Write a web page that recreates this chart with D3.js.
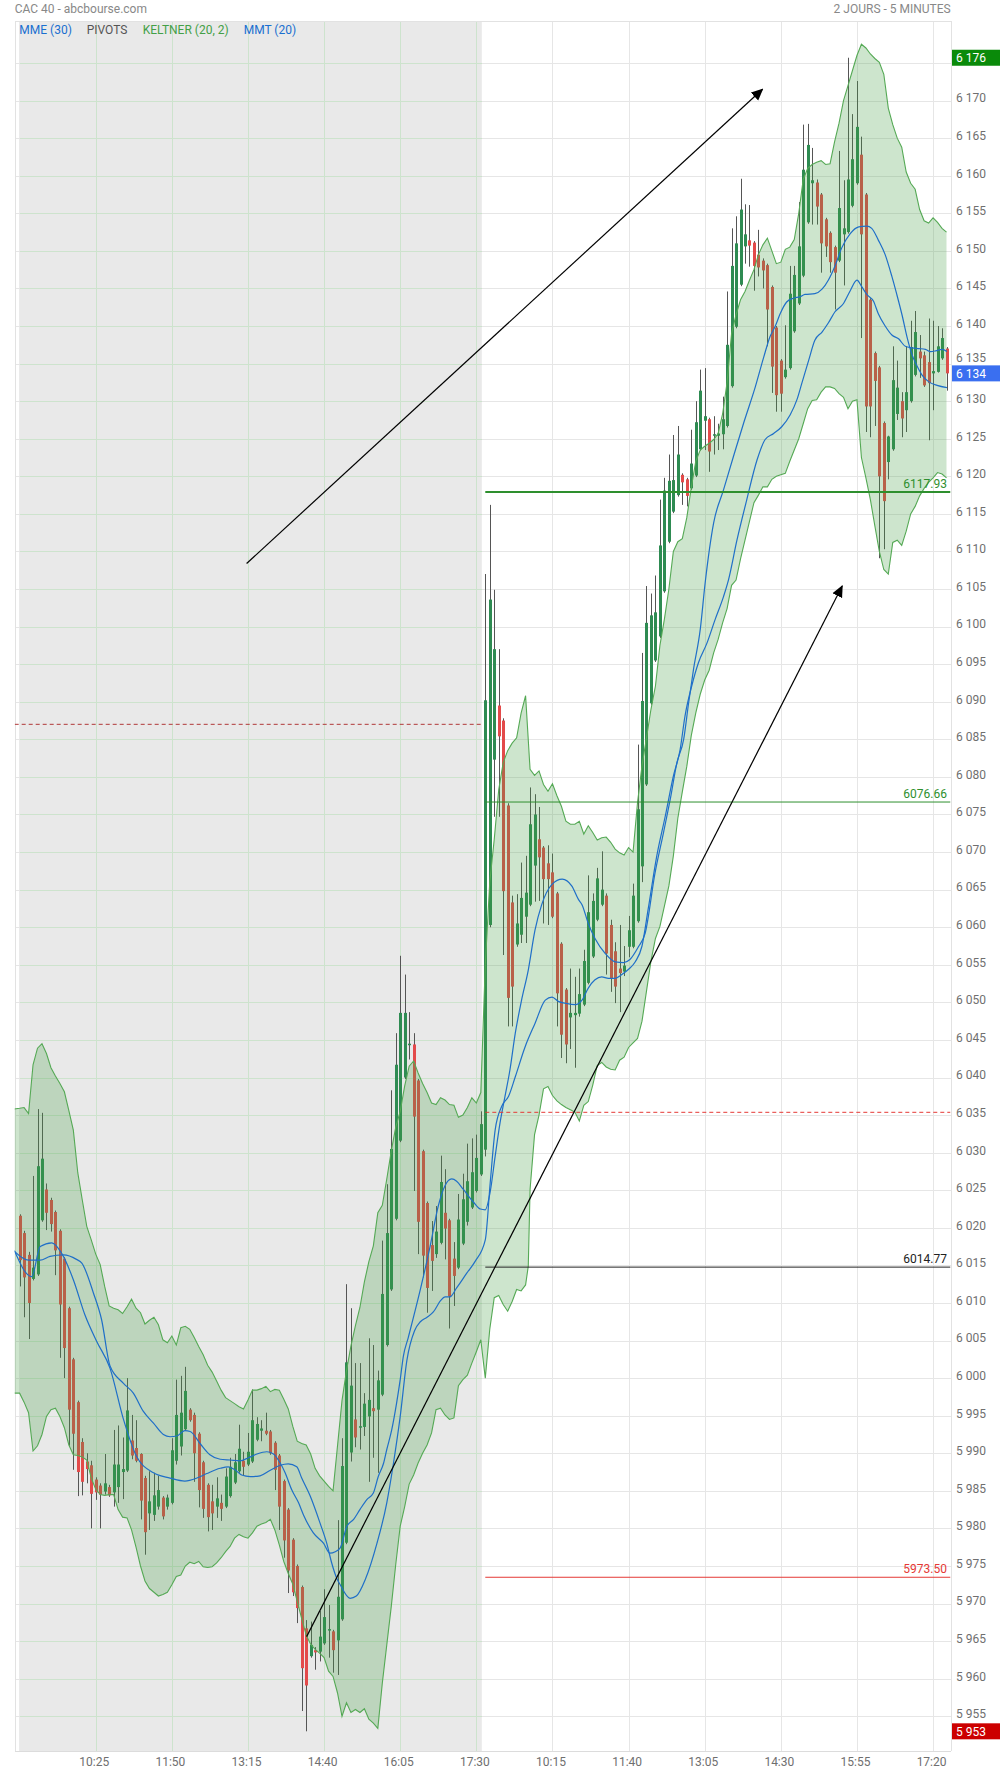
<!DOCTYPE html>
<html><head><meta charset="utf-8">
<script src="https://cdn.jsdelivr.net/npm/d3@7"></script>
<style>
body{margin:0;background:#fff;}
svg{display:block;font-family:Roboto,"Open Sans",Arial,sans-serif;}
</style></head><body>
<svg id="c" width="1000" height="1774"></svg>
<script>
// ---------- DATA ----------
const timeLabels = ["10:25","11:50","13:15","14:40","16:05","17:30","10:15","11:40","13:05","14:30","15:55","17:20"];
const timeTickIdx = [17,34,51,68,85,102,119,136,153,170,187,204];

const open = [6021.6,6019.3,6016.4,6013.2,6013.8,6021.0,6025.1,6023.7,6022.1,6019.6,6015.9,6009.3,6002.5,5996.8,5991.5,5988.9,5988.4,5986.5,5985.7,5984.9,
5985.5,5984.8,5985.5,5987.5,5987.7,5991.7,5990.7,5989.9,5986.7,5982.0,5981.8,5982.9,5984.1,5982.9,5983.4,5989.0,5990.9,5993.2,5995.8,5995.1,
5992.6,5988.8,5985.8,5983.6,5982.9,5983.4,5982.9,5984.3,5986.1,5987.6,5989.0,5988.5,5988.9,5991.8,5993.0,5993.0,5992.9,5991.4,5989.7,5986.3,
5982.5,5978.5,5975.0,5972.2,5966.7,5963.0,5963.8,5963.6,5964.7,5966.4,5966.3,5965.1,5967.9,5978.1,5990.1,5994.5,5993.4,5993.5,5994.9,5996.0,
5995.8,5997.8,6004.4,6011.8,6021.2,6031.6,6040.0,6044.3,6044.4,6039.6,6030.2,6023.3,6017.7,6016.5,6018.0,6022.0,6021.0,6015.9,6014.7,6017.9,
6020.8,6022.7,6024.9,6027.1,6030.4,6060.3,6082.3,6089.5,6087.5,6076.2,6063.3,6057.7,6059.0,6061.4,6063.0,6068.2,6071.7,6070.6,6068.5,6067.3,
6064.5,6057.8,6051.7,6048.0,6048.3,6048.5,6049.7,6052.6,6056.1,6061.0,6063.0,6064.2,6060.3,6056.8,6054.5,6054.1,6057.4,6057.4,6060.8,6068.1,
6079.0,6089.8,6095.5,6098.7,6104.7,6111.3,6115.3,6117.5,6120.2,6119.6,6118.4,6120.1,6123.6,6127.4,6127.6,6125.4,6125.4,6125.6,6126.7,6132.0,
6139.9,6145.5,6150.6,6151.4,6151.1,6149.5,6148.7,6148.1,6145.2,6139.8,6135.4,6133.2,6134.4,6139.3,6143.0,6146.7,6153.8,6159.0,6159.1,6157.5,
6154.2,6152.4,6150.5,6148.7,6152.2,6152.5,6156.0,6159.0,6162.8,6157.5,6143.5,6136.4,6134.5,6127.1,6121.9,6123.6,6128.3,6130.0,6128.8,6130.0,
6133.5,6136.6,6136.1,6135.2,6133.7,6133.9,6135.7,6137.0];

const high = [6021.8,6019.6,6016.8,6026.9,6035.8,6035.3,6025.9,6024.0,6022.3,6019.8,6016.1,6009.5,6002.7,5997.0,5992.0,5990.0,5989.0,5986.8,5986.0,5989.9,
5985.8,5993.1,5993.7,5992.1,6000.0,5995.1,5994.4,5990.0,5987.0,5987.6,5987.4,5987.0,5984.3,5984.5,5992.0,5999.8,6000.3,6001.5,5996.0,5995.4,
5992.8,5989.0,5986.0,5985.8,5986.8,5984.5,5988.0,5989.4,5989.9,5993.8,5990.2,5992.7,5998.5,5994.8,5994.4,5995.4,5993.1,5991.6,5989.9,5986.5,
5982.7,5978.7,5975.2,5972.4,5967.8,5967.6,5964.2,5969.0,5971.9,5969.8,5966.5,5981.1,5992.0,6012.5,6009.3,6002.0,6002.0,5998.0,6005.3,6004.4,
6001.0,6018.3,6025.8,6038.3,6045.9,6056.2,6053.7,6048.7,6045.9,6039.8,6030.4,6023.5,6020.9,6022.9,6029.6,6027.8,6021.2,6018.1,6024.5,6027.2,
6031.2,6031.9,6032.4,6035.5,6107.0,6116.2,6104.9,6097.0,6087.8,6076.5,6064.2,6064.4,6068.6,6069.5,6078.6,6077.7,6076.0,6070.8,6070.9,6069.8,
6064.7,6058.0,6051.9,6054.5,6053.4,6054.5,6057.0,6066.9,6064.5,6067.9,6070.1,6064.5,6061.0,6058.0,6060.3,6057.5,6061.5,6065.8,6084.3,6096.5,
6105.4,6104.4,6106.8,6116.9,6119.8,6122.9,6125.5,6126.7,6120.4,6119.8,6126.2,6130.0,6134.2,6134.4,6127.8,6128.0,6127.0,6130.6,6144.6,6153.0,
6154.6,6159.6,6156.2,6156.1,6151.3,6152.8,6149.0,6148.3,6145.4,6140.0,6135.6,6140.1,6148.0,6148.0,6156.5,6166.8,6166.9,6163.7,6159.5,6157.7,
6154.4,6152.6,6150.7,6163.3,6159.4,6175.7,6168.2,6172.6,6165.2,6157.7,6143.7,6136.6,6134.7,6127.3,6125.4,6137.3,6135.4,6131.2,6137.3,6140.7,
6142.0,6138.8,6136.6,6141.0,6140.7,6140.0,6139.7,6137.2];

const low = [6012.2,6008.1,6005.2,6013.0,6013.6,6020.8,6019.7,6019.5,6013.7,6002.7,6000.0,5991.0,5987.8,5984.3,5984.4,5986.0,5980.0,5983.8,5980.0,5984.5,
5984.2,5982.9,5983.4,5983.9,5987.5,5989.2,5988.8,5981.2,5976.5,5979.8,5981.0,5982.5,5981.2,5982.5,5983.2,5988.5,5989.7,5993.0,5994.2,5986.2,
5982.8,5981.4,5979.6,5979.8,5981.4,5981.0,5982.7,5984.1,5985.9,5987.4,5987.0,5988.3,5988.7,5991.6,5991.6,5992.4,5989.8,5985.1,5979.8,5976.1,
5971.4,5971.0,5967.4,5955.7,5953.0,5962.8,5961.2,5962.3,5964.5,5962.8,5960.8,5960.5,5967.7,5977.9,5988.9,5990.8,5990.5,5992.3,5986.2,5989.4,
5987.4,5997.6,6004.2,6011.6,6021.0,6031.4,6039.8,6042.4,6024.9,6016.5,6013.4,6008.7,6011.6,6016.0,6017.8,6015.8,6006.6,6009.6,6014.5,6017.7,
6020.3,6022.5,6024.7,6026.9,6029.5,6060.0,6074.7,6074.7,6056.3,6046.8,6046.8,6057.4,6057.9,6057.9,6062.8,6063.4,6063.5,6060.5,6060.3,6061.2,
6046.8,6042.6,6041.9,6043.8,6041.3,6048.1,6049.5,6052.4,6055.9,6060.8,6062.8,6053.7,6051.4,6049.9,6048.7,6053.5,6056.0,6057.2,6060.6,6066.0,
6078.8,6089.6,6095.3,6098.5,6104.5,6111.1,6115.1,6117.3,6116.2,6116.0,6118.2,6119.9,6123.4,6123.5,6120.6,6122.9,6123.5,6123.6,6126.5,6131.8,
6139.7,6145.3,6148.3,6147.9,6144.7,6146.6,6145.0,6137.3,6131.1,6128.6,6128.6,6133.0,6134.2,6139.1,6142.8,6146.5,6153.6,6153.5,6153.5,6147.1,
6149.2,6147.1,6142.2,6148.5,6145.4,6152.3,6155.8,6158.8,6138.4,6125.9,6125.2,6126.7,6109.1,6110.3,6119.6,6123.4,6127.5,6125.2,6125.9,6129.8,
6133.3,6133.1,6131.9,6124.8,6128.8,6133.8,6135.5,6131.4];

const close = [6015.7,6013.4,6010.0,6014.7,6028.2,6029.2,6022.0,6020.5,6017.0,6009.8,6004.0,5995.8,5992.6,5987.5,5986.2,5987.9,5984.6,5984.8,5984.5,5986.0,
5984.4,5988.5,5988.5,5987.9,5995.7,5989.7,5989.0,5983.7,5979.5,5983.6,5984.4,5985.1,5981.6,5984.1,5990.4,5995.1,5995.4,5998.3,5994.4,5990.0,
5985.1,5982.6,5981.5,5982.0,5984.0,5982.6,5986.9,5988.2,5988.8,5990.6,5988.2,5990.2,5994.4,5993.9,5993.3,5992.6,5990.0,5987.8,5982.9,5978.4,
5974.4,5971.5,5969.4,5961.4,5959.1,5964.5,5963.5,5965.6,5968.2,5966.6,5963.8,5970.9,5988.3,6002.1,5999.0,5992.1,5993.6,5996.6,5997.1,5995.6,
5999.7,6011.2,6019.3,6030.5,6041.7,6048.6,6048.6,6044.5,6034.8,6020.8,6016.3,6012.0,6015.6,6019.5,6026.1,6019.9,6010.9,6013.6,6021.1,6023.8,
6026.2,6027.4,6029.3,6033.8,6090.2,6103.6,6097.0,6085.4,6064.8,6050.6,6052.1,6060.5,6063.9,6064.6,6073.7,6075.0,6069.3,6066.4,6066.4,6061.4,
6051.2,6045.7,6044.4,6048.6,6048.6,6051.1,6055.5,6062.0,6063.5,6066.5,6065.0,6056.5,6053.2,6052.1,6053.9,6054.9,6059.6,6064.2,6075.7,6090.1,
6100.5,6101.5,6101.9,6110.8,6118.1,6119.4,6119.5,6122.9,6119.2,6117.4,6121.7,6127.2,6131.4,6128.0,6123.3,6125.6,6125.7,6127.6,6137.5,6148.0,
6151.0,6155.5,6152.2,6150.7,6148.0,6147.8,6147.4,6142.2,6134.6,6130.8,6131.0,6134.2,6144.3,6146.8,6150.6,6160.8,6164.1,6159.4,6155.9,6151.0,
6150.6,6148.5,6147.1,6155.7,6153.0,6159.5,6162.2,6166.5,6152.2,6129.3,6129.3,6132.7,6120.0,6116.7,6125.3,6132.8,6131.8,6127.7,6131.2,6137.2,
6139.2,6135.7,6132.1,6132.4,6134.0,6137.3,6138.4,6133.7];

// Keltner (20,2) upper / lower : [candle index, value]
const keltnerUpper = [[-1.2,6035.8],[0,6035.9],[1,6036.0],[2,6035.2],[3,6041.7],[4,6043.9],[5,6044.5],[6,6043.2],[7,6041.3],[8,6040.2],[9,6039.2],[10,6038.1],[11,6035.6],[12,6033.0],[13,6027.3],[14,6023.7],[15,6020.2],[16,6018.4],[17,6016.5],[18,6015.1],[19,6012.2],
[20,6009.6],[21,6009.3],[22,6009.1],[23,6008.6],[24,6009.5],[25,6010.5],[26,6009.3],[27,6008.7],[28,6007.2],[29,6007.7],[30,6008.1],[31,6007.1],[32,6005.1],[33,6004.7],[34,6005.6],[35,6004.4],[36,6006.7],[37,6006.9],[38,6006.5],[39,6005.4],
[40,6004.2],[41,6003.1],[42,6001.7],[43,6000.8],[44,5999.6],[45,5998.4],[46,5997.4],[47,5997.0],[48,5996.6],[49,5996.2],[50,5995.9],[51,5997.1],[52,5998.4],[53,5998.4],[54,5998.6],[55,5998.9],[56,5998.2],[57,5998.5],[58,5998.4],[59,5997.2],
[60,5995.9],[61,5993.6],[62,5991.6],[63,5991.3],[64,5991.1],[65,5989.9],[66,5988.0],[67,5987.0],[68,5986.3],[69,5985.6],[70,5985.0],[71,5991.0],[72,5997.0],[73,6001.0],[74,6004.3],[75,6007.0],[76,6009.4],[77,6012.8],[78,6015.5],[79,6017.6],
[80,6022.0],[81,6023.0],[82,6026.5],[83,6030.2],[84,6033.4],[85,6035.5],[86,6038.9],[87,6041.5],[88,6042.2],[89,6040.6],[90,6039.2],[91,6038.0],[92,6036.6],[93,6036.4],[94,6037.3],[95,6037.0],[96,6036.4],[97,6036.3],[98,6034.7],[99,6035.0],
[100,6036.0],[101,6037.3],[102,6036.6],[103,6038.0],[104,6055.0],[105,6066.0],[106,6071.7],[107,6078.3],[108,6081.9],[109,6083.5],[110,6084.5],[111,6085.2],[112,6088.5],[113,6090.8],[114,6081.0],[115,6080.2],[116,6080.8],[117,6079.0],[118,6078.1],[119,6079.1],
[120,6077.5],[121,6076.1],[122,6074.1],[123,6073.7],[124,6073.7],[125,6074.1],[126,6072.4],[127,6073.5],[128,6072.6],[129,6071.6],[130,6071.9],[131,6072.0],[132,6071.3],[133,6070.4],[134,6069.9],[135,6069.6],[136,6070.6],[137,6070.0],[138,6076.6],[139,6081.5],
[140,6085.2],[141,6089.0],[142,6092.1],[143,6097.5],[144,6101.0],[145,6105.0],[146,6110.0],[147,6111.3],[148,6111.7],[149,6114.5],[150,6118.5],[151,6122.0],[152,6123.5],[153,6124.0],[154,6124.4],[155,6124.9],[156,6125.7],[157,6128.3],[158,6132.5],[159,6139.0],
[160,6141.5],[161,6143.5],[162,6144.6],[163,6146.1],[164,6147.5],[165,6149.5],[166,6150.8],[167,6151.7],[168,6150.0],[169,6148.3],[170,6148.5],[171,6150.2],[172,6150.5],[173,6151.5],[174,6155.0],[175,6159.5],[176,6161.0],[177,6161.5],[178,6161.8],[179,6162.0],
[180,6161.5],[181,6161.6],[182,6164.5],[183,6167.0],[184,6170.0],[185,6172.0],[186,6174.0],[187,6176.0],[188,6177.5],[189,6177.0],[190,6176.2],[191,6175.6],[192,6175.1],[193,6173.5],[194,6169.0],[195,6166.8],[196,6165.0],[197,6163.8],[198,6160.5],[199,6159.0],
[200,6158.2],[201,6155.5],[202,6154.0],[203,6153.7],[204,6154.4],[205,6153.8],[206,6153.0],[207,6152.5]];

const keltnerLower = [[-1.2,5998.0],[0,5998.0],[1,5996.8],[2,5995.4],[3,5990.3],[4,5991.0],[5,5992.5],[6,5994.9],[7,5995.8],[8,5996.0],[9,5994.9],[10,5993.4],[11,5991.1],[12,5989.8],[13,5989.7],[14,5989.5],[15,5989.1],[16,5986.7],[17,5985.2],[18,5984.5],[19,5984.4],
[20,5984.5],[21,5984.5],[22,5982.5],[23,5981.5],[24,5981.4],[25,5979.8],[26,5977.5],[27,5975.0],[28,5973.0],[29,5972.0],[30,5971.5],[31,5971.0],[32,5971.2],[33,5971.5],[34,5972.5],[35,5973.6],[36,5973.8],[37,5975.0],[38,5975.5],[39,5975.3],
[40,5975.6],[41,5974.9],[42,5974.8],[43,5974.9],[44,5975.4],[45,5976.1],[46,5976.9],[47,5977.6],[48,5978.7],[49,5979.2],[50,5978.9],[51,5978.7],[52,5979.4],[53,5980.3],[54,5980.6],[55,5980.8],[56,5981.2],[57,5979.8],[58,5977.8],[59,5975.6],
[60,5974.0],[61,5972.6],[62,5970.3],[63,5968.0],[64,5965.8],[65,5964.6],[66,5963.9],[67,5963.4],[68,5962.8],[69,5961.0],[70,5960.3],[71,5958.1],[72,5955.0],[73,5956.8],[74,5955.5],[75,5955.9],[76,5955.5],[77,5956.0],[78,5954.6],[79,5954.1],
[80,5953.4],[81,5959.4],[82,5964.5],[83,5969.6],[84,5975.2],[85,5980.3],[86,5982.9],[87,5985.9],[88,5987.1],[89,5988.7],[90,5990.0],[91,5991.1],[92,5992.7],[93,5995.8],[94,5996.0],[95,5995.1],[96,5994.5],[97,5994.7],[98,5999.0],[99,5999.8],
[100,6000.4],[101,6002.0],[102,6003.5],[103,6005.1],[104,6000.0],[105,6006.5],[106,6010.7],[107,6011.0],[108,6009.8],[109,6008.9],[110,6010.2],[111,6011.8],[112,6011.6],[113,6012.4],[113.6,6014.9],[114,6025.1],[115,6032.4],[116,6035.0],[117,6038.5],[118,6038.8],[119,6037.6],
[120,6036.9],[121,6036.4],[122,6036.0],[123,6035.7],[124,6035.4],[125,6034.2],[126,6036.3],[127,6036.8],[128,6039.0],[129,6041.6],[130,6042.0],[131,6041.4],[132,6041.1],[133,6041.0],[134,6042.3],[135,6042.7],[136,6044.0],[137,6044.6],[138,6045.2],[139,6047.5],
[140,6051.5],[141,6055.5],[142,6058.5],[143,6060.1],[144,6062.8],[145,6065.5],[146,6069.5],[147,6074.5],[148,6078.0],[149,6081.4],[150,6085.5],[151,6088.5],[152,6091.0],[153,6092.9],[154,6094.2],[155,6096.5],[156,6098.3],[157,6100.5],[158,6102.4],[159,6105.5],
[160,6106.2],[161,6109.0],[162,6111.5],[163,6114.0],[164,6116.5],[165,6117.5],[166,6118.6],[167,6118.6],[168,6119.6],[169,6120.0],[170,6120.2],[171,6120.4],[172,6122.0],[173,6123.5],[174,6125.0],[175,6127.0],[176,6129.0],[177,6130.1],[178,6130.2],[179,6131.2],
[180,6131.9],[181,6131.9],[182,6131.7],[183,6131.0],[184,6130.5],[185,6129.0],[186,6130.0],[187,6130.2],[188,6122.5],[189,6119.8],[190,6116.9],[191,6113.4],[192,6110.0],[193,6107.6],[194,6107.0],[195,6111.2],[196,6111.5],[197,6110.8],[198,6112.7],[199,6115.0],
[200,6116.0],[201,6117.4],[202,6118.4],[203,6119.2],[204,6119.8],[205,6120.5],[206,6120.3],[207,6119.8]];

// MME (30)
const mme30 = [[-1.2,6017.0],[2.7,6013.5],[4.6,6017.5],[7.2,6018.0],[9.4,6016.6],[12,6013.1],[14.6,6008.4],[17.2,6004.9],[20.2,6001.3],[23.2,5994.5],[26.1,5989.6],[29.9,5987.4],[33.6,5986.7],[36.9,5986.3],[39.6,5986.7],[41.8,5987.3],[44.8,5988.0],[46.6,5988.2],[48.1,5987.8],[49.6,5987.1],
[51.5,5986.9],[53.7,5987.0],[55.9,5987.7],[58.2,5988.4],[60,5988.6],[61.9,5988.2],[63,5986.7],[64.9,5984.3],[67.1,5980.7],[68.6,5978.0],[69.7,5975.4],[70.8,5973.4],[71.6,5972.5],[73.8,5970.7],[75.2,5971.0],[77.2,5973.2],[79.8,5978.0],[82,5983.4],[83.5,5988.7],[85,5994.9],
[86.5,6002.4],[88.2,6006.3],[89.5,6007.5],[91,6008.1],[92.4,6008.8],[94,6010.3],[95,6010.8],[96.1,6010.8],[97.6,6012.0],[99.9,6014.0],[101.7,6015.5],[104,6018.4],[105.1,6026.0],[106.2,6033.0],[107.7,6036.2],[109.2,6037.5],[110.7,6040.1],[112.9,6044.1],[115.1,6047.2],[117.4,6050.3],
[118.9,6050.7],[120.4,6050.1],[121.8,6049.9],[124.1,6049.7],[125.6,6050.3],[127,6051.9],[128.5,6053.0],[130,6053.4],[131.5,6053.2],[133,6053.2],[134.5,6053.7],[136,6054.4],[137.5,6055.4],[139,6057.5],[140.4,6062.5],[142.3,6069.5],[144.2,6074.8],[146,6080.1],[147.5,6083.6],[148.6,6088.1],
[150.1,6092.1],[151.6,6095.2],[153.5,6097.8],[155.3,6100.9],[157.2,6104.0],[158.3,6106.2],[160.2,6111.5],[162.4,6116.9],[164.7,6122.2],[166.5,6124.9],[168.4,6125.7],[170.2,6126.6],[172.1,6128.2],[173.6,6130.2],[174.7,6132.4],[176.2,6135.4],[177.6,6138.1],[179.2,6139.2],[180.6,6140.4],[182.1,6141.9],
[184,6143.0],[185.5,6144.7],[187,6146.1],[188.1,6145.2],[189.2,6144.2],[190.7,6143.3],[191.8,6141.6],[193.3,6140.0],[194.8,6138.8],[196.3,6138.3],[197.8,6137.3],[199.3,6137.1],[200.8,6137.0],[202.3,6136.9],[203.4,6136.6],[204.6,6136.7],[206,6136.9],[207.1,6136.6]];

// MMT (20)
const mmt20 = [[-1.2,6016.9],[2,6015.7],[4.6,6015.7],[6.8,6016.2],[9.8,6016.4],[12.7,6015.8],[13.9,6015.3],[16.5,6011.3],[18.3,6007.8],[20.2,6001.6],[23.2,5999.3],[25.4,5998.0],[27.6,5995.6],[29.9,5994.0],[32.1,5992.5],[33.6,5992.2],[35.1,5992.3],[36.9,5993.0],[38.1,5992.9],[40.3,5991.3],
[42.5,5989.8],[44.8,5989.2],[47,5989.1],[49.2,5989.0],[51.1,5989.4],[53,5989.9],[55.2,5990.2],[56.7,5989.9],[58.2,5988.7],[59.3,5987.4],[60.8,5985.1],[62.3,5983.4],[63.4,5981.8],[65.6,5979.4],[67.9,5978.0],[69.3,5976.7],[70.5,5976.9],[71.6,5977.4],[73.1,5980.3],[74.6,5981.2],
[76,5982.5],[77.5,5983.8],[79,5984.7],[80.1,5986.9],[81.3,5988.7],[82,5990.5],[83.1,5993.1],[84.2,5996.7],[85,5999.8],[85.7,6002.9],[86.8,6005.4],[89.5,6011.8],[91.7,6017.6],[93.5,6022.9],[95,6025.6],[96.5,6026.5],[97.6,6026.2],[99.1,6025.1],[101.4,6023.4],[102.9,6022.5],
[104,6022.4],[105.1,6024.8],[106.2,6029.5],[107.3,6034.0],[108.4,6037.5],[109.5,6041.0],[110.7,6045.9],[112.1,6050.3],[113.6,6054.3],[115.1,6059.6],[116.6,6063.0],[118.9,6065.7],[121.2,6066.4],[123.3,6065.5],[124.8,6063.7],[125.6,6063.0],[127,6060.5],[128.5,6058.5],[130.8,6056.5],[133,6055.4],
[134.9,6055.3],[136.3,6055.7],[138.2,6057.4],[139.7,6059.2],[141.9,6067.2],[143.8,6072.6],[145.3,6077.0],[146.8,6081.9],[148.3,6085.0],[149.4,6089.8],[150.5,6094.3],[152,6099.6],[153.1,6105.8],[155,6113.8],[157.2,6118.2],[159.4,6122.6],[161.7,6127.1],[164.3,6131.9],[166.2,6135.9],[167.6,6138.6],
[168.7,6139.9],[169.9,6141.7],[171.3,6143.2],[172.8,6143.7],[174.3,6143.9],[175.4,6144.2],[177.6,6144.3],[179.2,6144.9],[180.6,6146.1],[182.1,6148.0],[183.6,6150.4],[185.5,6152.3],[187.4,6153.2],[189.2,6153.3],[190.3,6153.0],[191.8,6151.4],[193.3,6149.5],[194.8,6146.6],[195.9,6144.2],[197.1,6141.4],
[198.2,6138.5],[199.3,6136.2],[200.4,6134.7],[201.5,6133.5],[203,6132.6],[204.9,6132.1],[207.1,6131.8]];

// pivots
const pivotPrevLevels = [6087.0];
const pivotLevels = [6117.93, 6076.66, 6035.37, 6014.77, 5973.50];
const pivotLabels = ["6117.93","6076.66","","6014.77","5973.50"];
const pivotColors = ["#2e8f2e","#2e8f2e","#e53935","#222222","#e53935"];
const pivotWidths = [2,1,1,1,1];
const pivotDashed = [false,false,true,false,false];

// drawn arrows: [start idx, start price] -> [end idx, end price]
const arrows = [[[50.7,6108.4],[165.9,6171.5]],[[64.1,5965.6],[183.7,6105.4]]];

// price tags on axis
const tagValues = [6175.7, 6133.7, 5953.0];
const tagTexts = ["6 176","6 134","5 953"];
const tagColors = ["#0a8a0a","#3a6ff0","#cc0000"];

// ---------- DRAW ----------
const PL=14.7, PR=950.5, PT=21, PB=1751;
const x = d3.scaleLinear().domain([0,207]).range([19.6, 946.5]);
const y = d3.scaleLinear().domain([5950.38, 6180.59]).range([PB, PT]);
const svg = d3.select('#c');
const n = open.length;
const day1End = x(103)+1;

const defs = svg.append('defs');
defs.append('clipPath').attr('id','plot').append('rect').attr('x',PL).attr('y',PT).attr('width',PR-PL).attr('height',PB-PT);
defs.append('marker').attr('id','arr').attr('viewBox','0 0 10 10').attr('refX',9).attr('refY',5)
  .attr('markerWidth',12).attr('markerHeight',12).attr('markerUnits','userSpaceOnUse').attr('orient','auto')
  .append('path').attr('d','M0,0.5 L10,5 L0,9.5 z').attr('fill','#000');

svg.append('rect').attr('width',1000).attr('height',1774).attr('fill','#fff');
// day 1 shaded
svg.append('rect').attr('x',x(0)-0.5).attr('y',PT).attr('width',day1End-x(0)+0.5).attr('height',PB-PT).attr('fill','#e9e9e9');

// grid
const yTicks = d3.range(5955, 6175.01, 5);
const grid = svg.append('g').attr('shape-rendering','crispEdges');
yTicks.forEach(t=>{
  const yy = Math.round(y(t))+0.5;
  grid.append('line').attr('x1',PL).attr('x2',x(0)).attr('y1',yy).attr('y2',yy).attr('stroke','#e6e6e6');
  grid.append('line').attr('x1',x(0)).attr('x2',day1End).attr('y1',yy).attr('y2',yy).attr('stroke','#cde3cd');
  grid.append('line').attr('x1',day1End).attr('x2',PR).attr('y1',yy).attr('y2',yy).attr('stroke','#e6e6e6');
});
timeTickIdx.forEach(i=>{
  const xx = Math.round(x(i))+0.5;
  grid.append('line').attr('x1',xx).attr('x2',xx).attr('y1',PT).attr('y2',PB).attr('stroke', i<=103 ? '#cde3cd' : '#e6e6e6');
});
// frame
grid.append('line').attr('x1',PL).attr('x2',PR).attr('y1',PT+0.5).attr('y2',PT+0.5).attr('stroke','#e2e2e2');
grid.append('line').attr('x1',PL).attr('x2',PR).attr('y1',PB+0.5).attr('y2',PB+0.5).attr('stroke','#dcdcdc');
grid.append('line').attr('x1',PL+0.5).attr('x2',PL+0.5).attr('y1',PT).attr('y2',PB).attr('stroke','#e2e2e2');
grid.append('line').attr('x1',PR+0.5).attr('x2',PR+0.5).attr('y1',PT).attr('y2',PB).attr('stroke','#e2e2e2');

const plot = svg.append('g').attr('clip-path','url(#plot)');

// candles
const idx = d3.range(n);
const cg = plot.append('g');
cg.selectAll('line.w').data(idx).join('line')
  .attr('x1',i=>Math.round(x(i))+0.5).attr('x2',i=>Math.round(x(i))+0.5)
  .attr('y1',i=>y(high[i])).attr('y2',i=>y(low[i]))
  .attr('stroke','#555').attr('stroke-width',1);
cg.selectAll('rect.b').data(idx).join('rect')
  .attr('x',i=>Math.round(x(i))-1).attr('width',3)
  .attr('y',i=>y(Math.max(open[i],close[i])))
  .attr('height',i=>Math.max(1, y(Math.min(open[i],close[i]))-y(Math.max(open[i],close[i]))))
  .attr('fill',i=>close[i]>=open[i] ? '#2e8b52' : '#e34a4a');

// keltner band
const lineGen = d3.line().x(d=>x(d[0])).y(d=>y(d[1]));
const bandPoly = keltnerUpper.concat(keltnerLower.slice().reverse());
plot.append('path').attr('d', lineGen(bandPoly)+'Z').attr('fill','rgba(70,158,70,0.27)').attr('stroke','none');
plot.append('path').attr('d', lineGen(keltnerUpper)).attr('fill','none').attr('stroke','#55a955').attr('stroke-width',1.1);
plot.append('path').attr('d', lineGen(keltnerLower)).attr('fill','none').attr('stroke','#55a955').attr('stroke-width',1.1);

// moving averages
const maGen = d3.line().x(d=>x(d[0])).y(d=>y(d[1])).curve(d3.curveMonotoneX);
plot.append('path').attr('d', maGen(mme30)).attr('fill','none').attr('stroke','#1f6fc8').attr('stroke-width',1.2);
plot.append('path').attr('d', maGen(mmt20)).attr('fill','none').attr('stroke','#1f6fc8').attr('stroke-width',1.2);

// pivots
pivotPrevLevels.forEach(v=>{
  plot.append('line').attr('x1',PL).attr('x2',day1End).attr('y1',y(v)).attr('y2',y(v))
    .attr('stroke','#b03838').attr('stroke-width',1).attr('stroke-dasharray','4,3');
});
const pvStart = x(104);
pivotLevels.forEach((v,k)=>{
  plot.append('line').attr('x1',pvStart).attr('x2',PR).attr('y1',y(v)).attr('y2',y(v))
    .attr('stroke',pivotColors[k]).attr('stroke-width',pivotWidths[k])
    .attr('stroke-dasharray', pivotDashed[k] ? '4,3' : null);
  if (pivotLabels[k]) {
    svg.append('text').attr('x',947).attr('y',y(v)-4).attr('text-anchor','end')
      .attr('font-size',12).attr('fill',pivotColors[k]).text(pivotLabels[k]);
  }
});

// arrows
arrows.forEach(a=>{
  svg.append('line').attr('x1',x(a[0][0])).attr('y1',y(a[0][1])).attr('x2',x(a[1][0])).attr('y2',y(a[1][1]))
    .attr('stroke','#000').attr('stroke-width',1.2).attr('marker-end','url(#arr)');
});

// right axis
const fmt = v => { const s = String(Math.round(v)); return s.slice(0, s.length-3)+' '+s.slice(-3); };
const tagY = tagValues.map(v=>y(v));
const yAxis = d3.axisRight(y).tickValues(yTicks.filter(t=>tagY.every(ty=>Math.abs(y(t)-ty)>=9))).tickFormat(fmt).tickSize(0).tickPadding(0);
const ya = svg.append('g').attr('transform',`translate(${956},0)`).call(yAxis);
ya.select('.domain').remove();
ya.selectAll('.tick text').attr('font-size',12).attr('fill','#6f6f6f').attr('font-family','Roboto,sans-serif')
  .attr('y', t=>{
    let off = -2.5;
    tagY.forEach(ty=>{
      const d = (y(t)+off) - ty;
      if (Math.abs(d) < 15.5) off = (d<0 ? ty-15.5 : ty+15.5) - y(t);
    });
    return off;
  });

tagValues.forEach((v,k)=>{
  const cy = y(v);
  svg.append('rect').attr('x',952).attr('y',cy-8).attr('width',48).attr('height',16).attr('fill',tagColors[k]);
  svg.append('text').attr('x',956).attr('y',cy).attr('dy','0.35em').attr('font-size',12).attr('fill','#fff').text(tagTexts[k]);
});

// bottom axis
const xAxis = d3.axisBottom(x).tickValues(timeTickIdx).tickFormat((d,i)=>timeLabels[i]).tickSize(0).tickPadding(0);
const xa = svg.append('g').attr('transform',`translate(-2,${1757})`).call(xAxis);
xa.select('.domain').remove();
xa.selectAll('text').attr('font-size',12).attr('fill','#6f6f6f').attr('font-family','Roboto,sans-serif');

// titles
svg.append('text').attr('x',14.7).attr('y',12.5).attr('font-size',12).attr('fill','#888').text('CAC 40 - abcbourse.com');
svg.append('text').attr('x',950.7).attr('y',12.5).attr('text-anchor','end').attr('font-size',12).attr('fill','#888').text('2 JOURS - 5 MINUTES');

// legend
const legend = [["MME (30)","#1a6fd0",19.3],["PIVOTS","#555",86.7],["KELTNER (20, 2)","#43a047",142.7],["MMT (20)","#1a6fd0",243.7]];
legend.forEach(l=>{
  svg.append('text').attr('x',l[2]).attr('y',33.5).attr('font-size',12).attr('fill',l[1]).text(l[0]);
});
</script>
</body></html>
